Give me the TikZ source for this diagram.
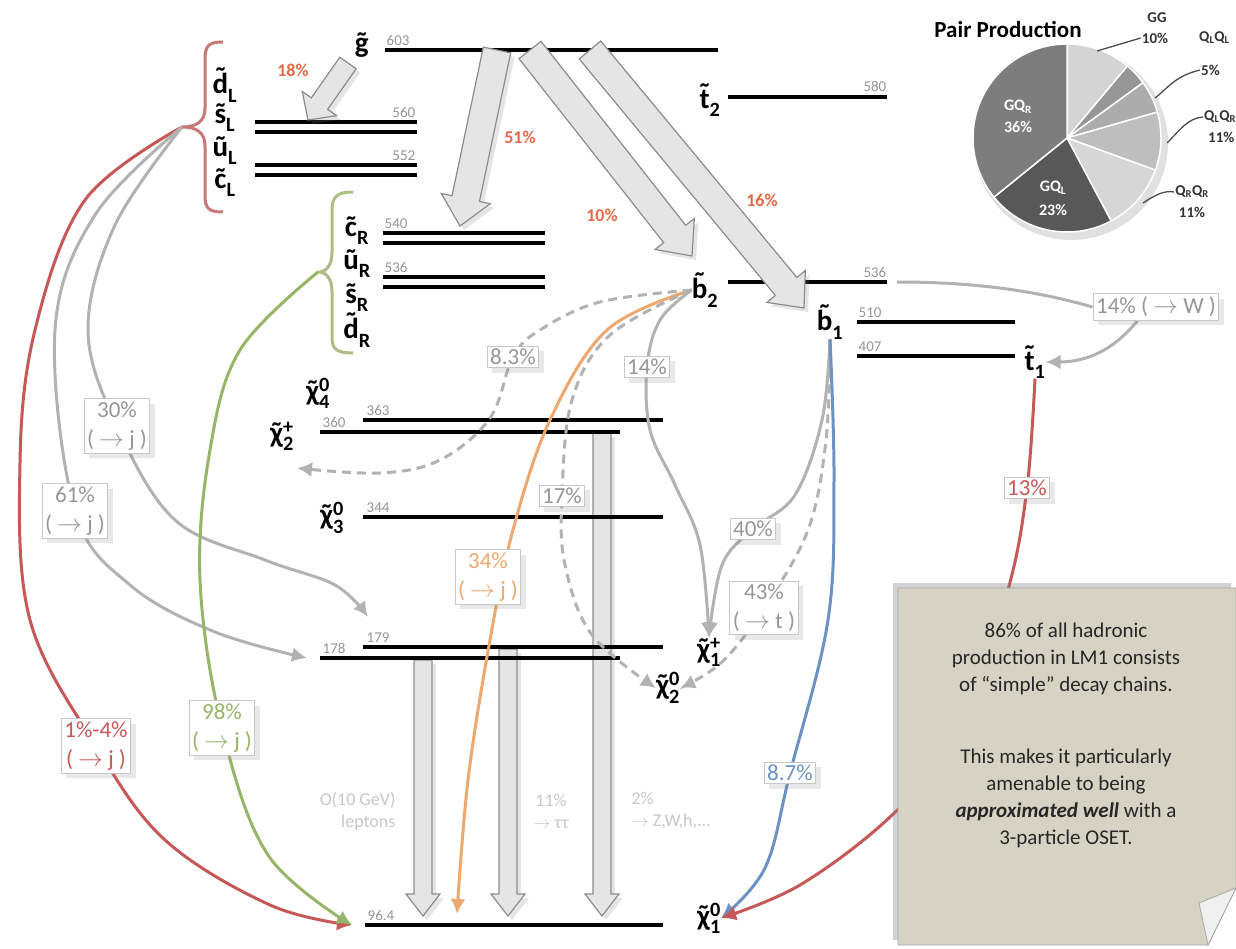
\documentclass[tikz,border=0pt]{standalone}
\usepackage{fontspec}
\usepackage{amsmath}
\setmainfont{Carlito}
\usetikzlibrary{calc,arrows.meta,shadows}
\definecolor{redc}{RGB}{198,88,88}
\definecolor{bracered}{RGB}{200,120,118}
\definecolor{greenc}{RGB}{152,180,104}
\definecolor{bracegreen}{RGB}{172,190,132}
\definecolor{orangec}{RGB}{236,168,110}
\definecolor{bluec}{RGB}{108,146,196}
\definecolor{grayc}{RGB}{178,178,178}
\definecolor{graytxt}{RGB}{150,150,150}
\definecolor{redtxt}{RGB}{226,106,72}
\definecolor{notefill}{RGB}{214,211,196}
\definecolor{pieGG}{RGB}{212,212,212}
\definecolor{pieS}{RGB}{150,150,150}
\definecolor{pieLL}{RGB}{172,172,172}
\definecolor{pieLR}{RGB}{190,190,190}
\definecolor{pieRR}{RGB}{214,214,214}
\definecolor{pieGL}{RGB}{88,88,88}
\definecolor{pieGR}{RGB}{125,125,125}
\pgfdeclarelayer{lvl}
\pgfdeclarelayer{crv}
\pgfsetlayers{lvl,crv,main}
\newcommand{\ptcl}[3]{\accent"02DC #1\ensuremath{\vphantom{\text{b}}_{\text{#2}}^{\text{#3}}}}
\newcommand{\blockarr}[5]{%
  \coordinate (bac) at ($(#2)!#5!(#1)$);
  \draw[blockarrow] ($(#1)!#3!90:(#2)$) -- ($(bac)!#3!-90:(#1)$) -- ($(bac)!#4!-90:(#1)$) -- (#2) -- ($(bac)!#4!90:(#1)$) -- ($(bac)!#3!90:(#1)$) -- ($(#1)!#3!-90:(#2)$) -- cycle;}
\begin{document}
\begin{tikzpicture}[x=1pt,y=-1pt,
  ptl/.style={font=\fontsize{29}{29}\selectfont\bfseries, text=black, inner sep=0pt},
  mass/.style={font=\fontsize{15}{15}\selectfont, text=graytxt, inner sep=0.5pt},
  pct/.style={draw=black!22, line width=1pt, fill=white, font=\fontsize{23}{29}\selectfont, align=center, inner sep=3pt, text=graytxt, drop shadow={opacity=0.18, shadow xshift=5pt, shadow yshift=-5pt}},
  redpct/.style={font=\fontsize{18}{18}\selectfont\bfseries, text=redtxt},
  faint/.style={font=\fontsize{18}{22}\selectfont, text=black!22},
  pielab/.style={font=\fontsize{15}{15}\selectfont\bfseries, text=black!80, inner sep=1pt},
  pieinner/.style={font=\fontsize{16}{16}\selectfont\bfseries, text=white, inner sep=1pt},
  lvlline/.style={line width=4pt, black},
  blockarrow/.style={draw=black!45, fill=black!10, line width=1.2pt, line join=miter, drop shadow={opacity=0.2, shadow xshift=4pt, shadow yshift=-4pt}},
  conn/.style={line width=3pt},
  arrowend/.style={-{Latex[length=15pt,width=15pt]}},
  dashconn/.style={conn, dash pattern=on 9pt off 6pt}
]
\useasboundingbox (0,0) rectangle (1236,949);

% ---------- particle labels ----------
\node[ptl] (g)  at (362,45)  {\ptcl{g}{}{}};
\node[ptl] (dL) at (225,85)  {\ptcl{d}{L}{}};
\node[ptl] (sL) at (225,117) {\ptcl{s}{L}{}};
\node[ptl] (uL) at (225,150) {\ptcl{u}{L}{}};
\node[ptl] (cL) at (225,182) {\ptcl{c}{L}{}};
\node[ptl] (cR) at (357,230) {\ptcl{c}{R}{}};
\node[ptl] (uR) at (357,263) {\ptcl{u}{R}{}};
\node[ptl] (sR) at (357,297) {\ptcl{s}{R}{}};
\node[ptl] (dR) at (357,330) {\ptcl{d}{R}{}};
\node[ptl] (t2) at (710,100) {\ptcl{t}{2}{}};
\node[ptl] (b2) at (705,290) {\ptcl{b}{2}{}};
\node[ptl] (b1) at (830,322) {\ptcl{b}{1}{}};
\node[ptl] (t1) at (1035,362) {\ptcl{t}{1}{}};
\node[ptl] (n4) at (318,393) {\ptcl{χ}{4}{0}};
\node[ptl] (c2) at (282,436) {\ptcl{χ}{2}{+}};
\node[ptl] (n3) at (332,518) {\ptcl{χ}{3}{0}};
\node[ptl] (c1) at (709,652) {\ptcl{χ}{1}{+}};
\node[ptl] (n2) at (668,688) {\ptcl{χ}{2}{0}};
\node[ptl] (n1) at (709,918) {\ptcl{χ}{1}{0}};

% ---------- mass values ----------
\node[mass, anchor=south west] (m603) at (386,46) {603};
\node[mass, anchor=south east] (m580) at (887,92) {580};
\node[mass, anchor=south east] (m560) at (416,118) {560};
\node[mass, anchor=south east] (m552) at (416,161) {552};
\node[mass, anchor=south west] (m540) at (384,229) {540};
\node[mass, anchor=south west] (m536a) at (384,273) {536};
\node[mass, anchor=south east] (m536b) at (887,278) {536};
\node[mass, anchor=south west] (m510) at (858,318) {510};
\node[mass, anchor=south west] (m407) at (858,352) {407};
\node[mass, anchor=south west] (m363) at (366,416) {363};
\node[mass, anchor=south west] (m360) at (322,428) {360};
\node[mass, anchor=south west] (m344) at (366,513) {344};
\node[mass, anchor=south west] (m179) at (366,643) {179};
\node[mass, anchor=south west] (m178) at (322,654) {178};
\node[mass, anchor=south west] (m964) at (367,921) {96.4};

% ---------- block arrow end points ----------
\coordinate (a18s) at (348,63);  \coordinate (a18e) at (308,120);
\coordinate (a51s) at (497,50);  \coordinate (a51e) at (460,226);
\coordinate (a10s) at (530,50);  \coordinate (a10e) at (692,256);
\coordinate (a16s) at (590,50);  \coordinate (a16e) at (804,308);
\coordinate (v1s) at (423,660);  \coordinate (v1e) at (423,916);
\coordinate (v2s) at (508,649);  \coordinate (v2e) at (508,916);
\coordinate (v3s) at (602,433);  \coordinate (v3e) at (602,916);

\begin{pgfonlayer}{lvl}
  \fill[white] (0,0) rectangle (1236,949);
  % vertical decay arrows (under the levels)
  \blockarr{v1s}{v1e}{9pt}{17pt}{22pt}
  \blockarr{v2s}{v2e}{9pt}{17pt}{22pt}
  \blockarr{v3s}{v3e}{9pt}{17pt}{22pt}
  % levels
  \draw[lvlline] (385,50) -- (718,50);
  \draw[lvlline] (728,97) -- (887,97);
  \draw[lvlline] (255,122) -- (417,122);
  \draw[lvlline] (255,132) -- (417,132);
  \draw[lvlline] (255,165) -- (417,165);
  \draw[lvlline] (255,175) -- (417,175);
  \draw[lvlline] (383,233) -- (545,233);
  \draw[lvlline] (383,243) -- (545,243);
  \draw[lvlline] (383,277) -- (545,277);
  \draw[lvlline] (383,287) -- (545,287);
  \draw[lvlline] (728,282) -- (887,282);
  \draw[lvlline] (857,322) -- (1015,322);
  \draw[lvlline] (857,356) -- (1015,356);
  \draw[lvlline] (363,420) -- (663,420);
  \draw[lvlline] (320,432) -- (620,432);
  \draw[lvlline] (363,517) -- (663,517);
  \draw[lvlline] (363,647) -- (663,647);
  \draw[lvlline] (320,658) -- (620,658);
  \draw[lvlline] (365,925) -- (663,925);
  % gluino decay arrows
  \blockarr{a18s}{a18e}{10pt}{21pt}{20pt}
  \blockarr{a51s}{a51e}{14pt}{25pt}{28pt}
  \blockarr{a10s}{a10e}{14pt}{25pt}{28pt}
  \blockarr{a16s}{a16e}{14pt}{25pt}{28pt}
\end{pgfonlayer}

% ---------- braces ----------
\coordinate (brL) at (182,127);
\coordinate (brR) at (318,272);
\draw[bracered, line width=3pt] (223,42) .. controls (208,42) and (205,46) .. (205,60) -- (205,108)
   .. controls (205,122) and (196,127) .. (brL) .. controls (196,127) and (205,132) .. (205,146)
   -- (205,195) .. controls (205,208) and (208,212) .. (223,212);
\draw[bracegreen, line width=3pt] (353,192) .. controls (338,192) and (332,196) .. (332,210) -- (332,252)
   .. controls (332,266) and (326,272) .. (brR) .. controls (326,272) and (332,278) .. (332,292)
   -- (332,338) .. controls (332,350) and (338,353) .. (353,353);

% ---------- red percentages of gluino ----------
\node[redpct] (p18) at (293,70) {18\%};
\node[redpct] (p51) at (520,137) {51\%};
\node[redpct] (p10) at (602,215) {10\%};
\node[redpct] (p16) at (762,200) {16\%};

% ---------- faint texts ----------
\node[faint, align=right, anchor=east] (tlep) at (399,811) {O(10 GeV)\\leptons};
\node[faint, align=center] (ttau) at (551,811) {11\%\\$\rightarrow$ ττ};
\node[faint, align=left, anchor=west] (tzwh) at (628,811) {2\%\\$\rightarrow$ Z,W,h,...};

% ---------- branching labels ----------
\node[pct] (l30) at (117,426) {30\%\\( $\rightarrow$ j )};
\node[pct] (l61) at (75,511) {61\%\\( $\rightarrow$ j )};
\node[pct, text=redc] (l14) at (96,746) {1\%-4\%\\( $\rightarrow$ j )};
\node[pct, text=greenc] (l98) at (222,728) {98\%\\( $\rightarrow$ j )};
\node[pct] (l83) at (513,357) {8.3\%};
\node[pct] (l14b) at (647,367) {14\%};
\node[pct] (l17) at (562,496) {17\%};
\node[pct, text=orangec] (l34) at (488,577) {34\%\\( $\rightarrow$ j )};
\node[pct] (l40) at (753,529) {40\%};
\node[pct] (l43) at (764,608) {43\%\\( $\rightarrow$ t )};
\node[pct, text=bluec] (l87) at (790,773) {8.7\%};
\node[pct, text=redc] (l13) at (1027,488) {13\%};
\node[pct] (l14w) at (1156,307) {14\% ( $\rightarrow$ W )};

% ---------- free ends ----------
\coordinate (e1) at (352,925);
\coordinate (e30) at (368,617);
\coordinate (e61) at (307,658);
\coordinate (e8) at (297,468);
\coordinate (eo) at (457,914);
\coordinate (b2end) at (897,282);

\begin{pgfonlayer}{crv}
  % from left squarks
  \draw[conn, redc, arrowend] plot[smooth, tension=0.6] coordinates {(brL) (85,200) (35,330) (20,463) (30,620) (l14) (165,840) (270,905) (e1)};
  \draw[conn, grayc, arrowend] plot[smooth, tension=0.6] coordinates {(brL) (115,225) (88,330) (l30) (175,520) (265,560) (335,585) (e30)};
  \draw[conn, grayc, arrowend] plot[smooth, tension=0.6] coordinates {(brL) (95,215) (55,330) (l61) (130,585) (215,632) (e61)};
  % from right squarks
  \draw[conn, greenc, arrowend] plot[smooth, tension=0.6] coordinates {(brR) (240,350) (210,450) (200,580) (l98) (268,855) (e1)};
  % from sbottom 2
  \draw[conn, orangec, arrowend] plot[smooth, tension=0.6] coordinates {(b2.west) (607,330) (550,420) (513,530) (490,640) (468,780) (eo)};
  \draw[dashconn, grayc, arrowend] plot[smooth, tension=0.6] coordinates {(b2.west) (600,302) (540,330) (l83) (490,418) (440,460) (380,473) (e8)};
  \draw[dashconn, grayc, arrowend] plot[smooth, tension=0.6] coordinates {(b2.west) (610,335) (572,400) (l17) (565,565) (592,635) (n2.west)};
  \draw[conn, grayc, arrowend] plot[smooth, tension=0.6] coordinates {(b2.west) (660,320) (l14b) (650,430) (675,485) (700,545) (c1.north)};
  \draw[conn, grayc] (b2end) .. controls (980,282) and (1040,292) .. (l14w.west);
  \draw[conn, grayc, arrowend] (l14w.south west) ++(45,0) .. controls (1118,345) and (1092,362) .. (t1.east);
  % from sbottom 1
  \draw[conn, grayc, arrowend] plot[smooth, tension=0.6] coordinates {(b1.south) (822,420) (795,495) (l40) (722,565) (c1.north)};
  \draw[dashconn, grayc, arrowend] plot[smooth, tension=0.6] coordinates {(b1.south) (826,440) (808,530) (l43) (722,662) (n2.east)};
  \draw[conn, bluec, arrowend] plot[smooth, tension=0.6] coordinates {(b1.south) (834,480) (828,620) (l87) (765,868) (n1.east)};
  % from stop 1
  \draw[conn, redc, arrowend] plot[smooth, tension=0.6] coordinates {(t1.south) (l13) (1008,590) (960,735) (890,817) (800,885) (n1.east)};
\end{pgfonlayer}

% ---------- pie chart ----------
\fill[black!12] (1071,143) circle (97);
\begin{scope}[shift={(1067,138)}, y=1pt]
  \foreach \a/\b/\c in {50/90/pieGG, 36/50/pieS, 16/36/pieLL, -20/16/pieLR, -62/-20/pieRR, -141/-62/pieGL, 90/219/pieGR}
    \filldraw[fill=\c, draw=white, line width=1.5pt] (0,0) -- (\a:94) arc[start angle=\a, end angle=\b, radius=94] -- cycle;
\end{scope}
\node[font=\fontsize{23}{23}\selectfont\bfseries] (pp) at (1008,30) {Pair Production};
\node[pieinner] (pgr1) at (1018,107) {GQ\textsubscript{R}};
\node[pieinner] (pgr2) at (1018,127) {36\%};
\node[pieinner] (pgl1) at (1053,188) {GQ\textsubscript{L}};
\node[pieinner] (pgl2) at (1053,210) {23\%};
\node[pielab] (lgg1) at (1157,18) {GG};
\node[pielab] (lgg2) at (1155,38) {10\%};
\node[pielab, anchor=west] (lll1) at (1198,38) {Q\textsubscript{L}Q\textsubscript{L}};
\node[pielab, anchor=west] (lll2) at (1200,70) {5\%};
\node[pielab, anchor=west] (llr1) at (1203,117) {Q\textsubscript{L}Q\textsubscript{R}};
\node[pielab, anchor=west] (llr2) at (1207,137) {11\%};
\node[pielab] (lrr1) at (1192,192) {Q\textsubscript{R}Q\textsubscript{R}};
\node[pielab] (lrr2) at (1192,212) {11\%};
\coordinate (qgg) at (1097,51);
\coordinate (qll) at (1155,98);
\coordinate (qlr) at (1167,143);
\coordinate (qrr) at (1143,203);
\draw[black!70, line width=1.3pt] (qgg) -- (lgg2.west);
\draw[black!70, line width=1.3pt] (qll) .. controls (1168,88) and (1175,76) .. (lll2.west);
\draw[black!70, line width=1.3pt] (qlr) .. controls (1180,130) and (1188,118) .. (llr1.west);
\draw[black!70, line width=1.3pt] (qrr) .. controls (1155,195) and (1165,190) .. (lrr1.west);

% ---------- note ----------
\filldraw[fill=notefill, draw=black!35, line width=0.8pt, drop shadow={opacity=0.35, shadow xshift=-5pt, shadow yshift=5pt}]
  (898,588) -- (1236,588) -- (1236,888) -- (1208,945) -- (898,945) -- cycle;
\filldraw[fill=black!6, draw=black!35, line width=0.8pt] (1236,888) -- (1208,945) -- (1199,903) -- cycle;
\node[font=\fontsize{21}{27}\selectfont, align=center, text=black!85] (note) at (1066,735)
 {86\% of all hadronic\\production in LM1 consists\\of “simple” decay chains.\\[45pt]This makes it particularly\\amenable to being\\\textbf{\textit{approximated well}} with a\\3-particle OSET.};
\end{tikzpicture}
\end{document}
